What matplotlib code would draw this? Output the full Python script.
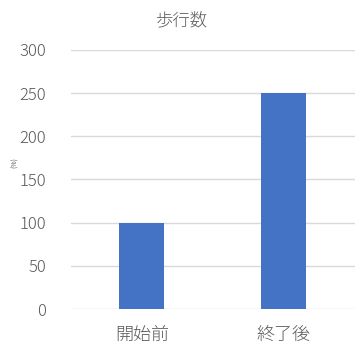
import matplotlib
matplotlib.use("Agg")
import matplotlib.pyplot as plt

plt.rcParams['font.family'] = ['Noto Sans CJK JP', 'DejaVu Sans']

categories = ["開始前", "終了後"]
values = [100, 250]
yticks = [0, 50, 100, 150, 200, 250, 300]

fig = plt.figure(figsize=(3.64, 3.54), dpi=100)
ax = fig.add_axes([0.195, 0.127, 0.78, 0.732])
x = list(range(len(categories)))
ax.bar(x, values, width=0.317, color="#4472C4", zorder=3)
ax.set_xlim(-0.5, 1.5)
ax.set_ylim(0, 300)
ax.set_yticks(yticks)
ax.set_yticklabels([str(v) for v in yticks], fontweight='light')
ax.set_xticks(x)
ax.set_xticklabels(categories, fontsize=13, fontweight='light')
ax.grid(axis='y', color="#D9D9D9", linewidth=1, zorder=0)
for s in ax.spines.values():
    s.set_visible(False)
ax.tick_params(axis='both', length=0, colors="#595959")
ax.tick_params(axis='y', pad=18, labelsize=12)
ax.tick_params(axis='x', pad=12)
fig.text(0.5, 0.94, "歩行数", ha='center', va='center', fontsize=12.5,
         fontweight='light', color="#595959")
fig.text(0.042, 0.54, "(%)", ha='center', va='center', rotation=90, fontsize=5, color="#595959")
fig.savefig("out.png", dpi=100)
